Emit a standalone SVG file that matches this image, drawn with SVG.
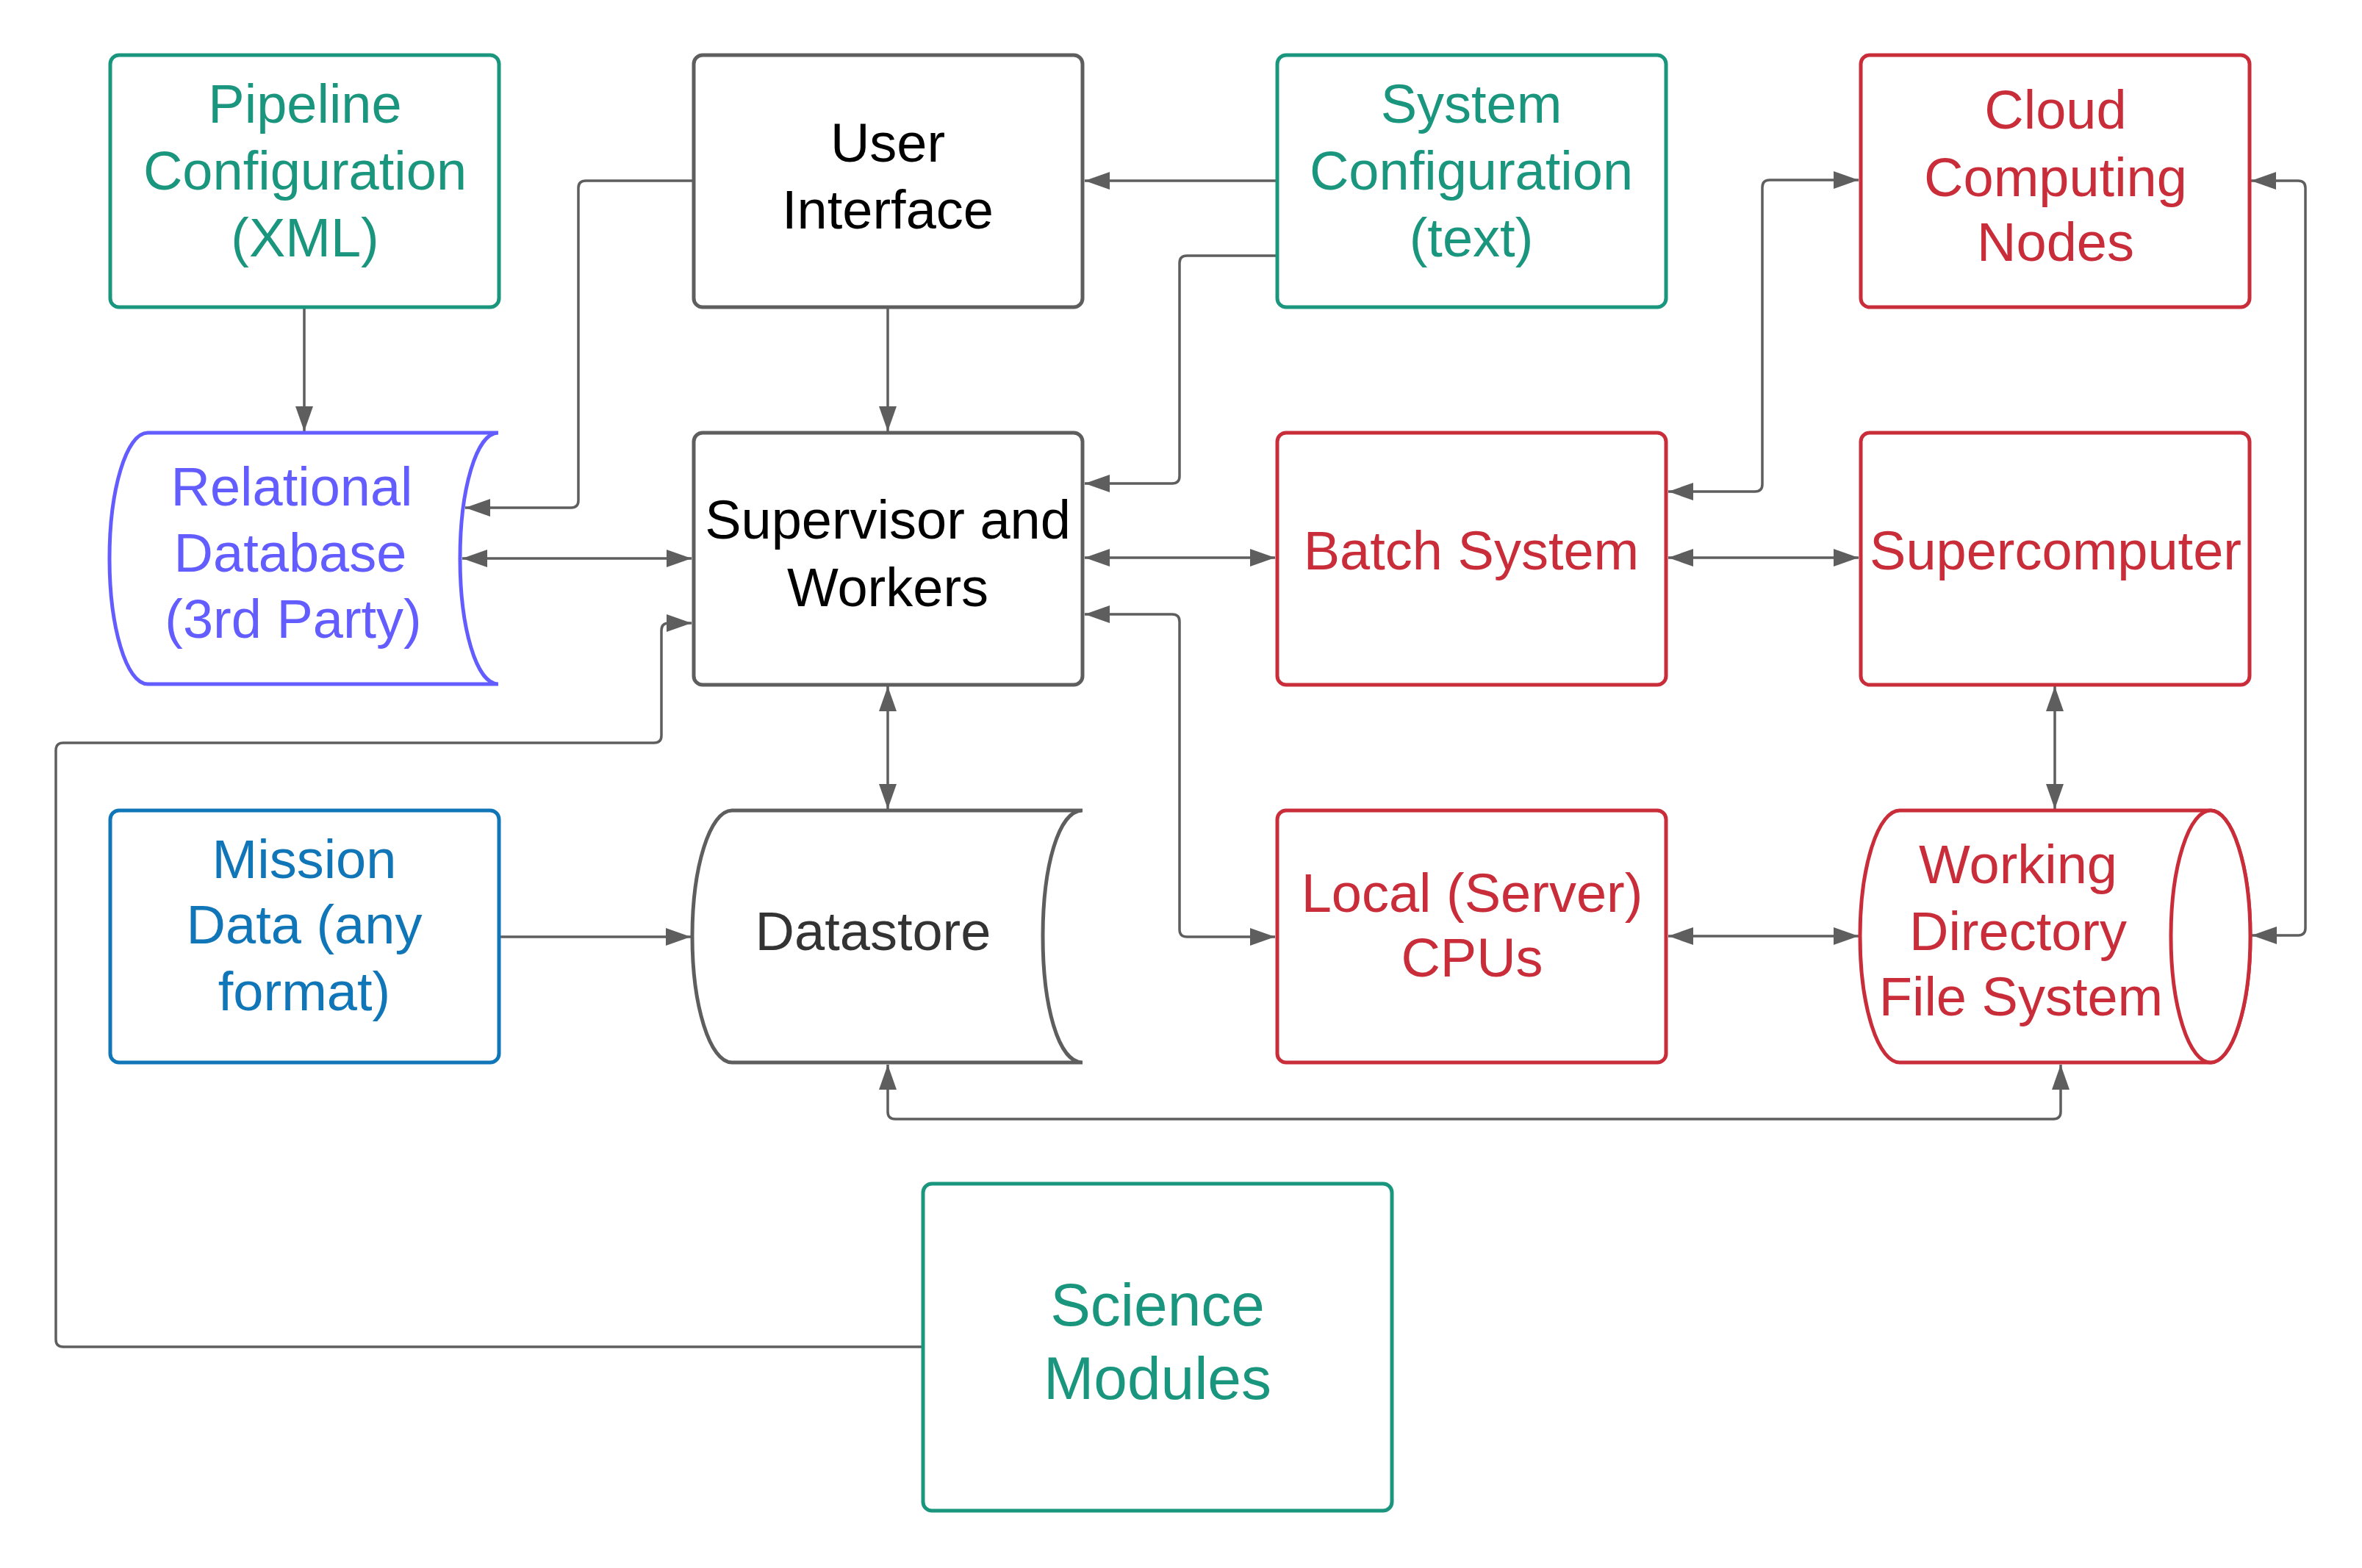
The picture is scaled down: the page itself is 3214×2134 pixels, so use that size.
<svg xmlns="http://www.w3.org/2000/svg" width="3214" height="2134" viewBox="0 0 3214 2134">
<style>
text{font-family:"Liberation Sans",Arial,sans-serif;font-size:74px;text-anchor:middle}
.box{fill:#fff;stroke-width:5}
.green{stroke:#19967d}.tgreen{fill:#19967d}
.red{stroke:#c92d39}.tred{fill:#c92d39}
.gray{stroke:#5e5e5e}.tblack{fill:#000}.tdark{fill:#333}
.blue{stroke:#1176b8}.tblue{fill:#1176b8}
.purple{stroke:#635dff}.tpurple{fill:#635dff}
.conn path{fill:none;stroke:#5e5e5e;stroke-width:3.5}
.both{marker-start:url(#ah);marker-end:url(#ah)}
.end{marker-end:url(#ah)}
</style>
<defs>
<marker id="ah" viewBox="0 0 34 24" refX="34" refY="12" markerWidth="34" markerHeight="24" markerUnits="userSpaceOnUse" orient="auto-start-reverse">
<path d="M0,0 L34,12 L0,24 z" fill="#5e5e5e"/>
</marker>
</defs>
<rect width="3214" height="2134" fill="#fff"/>
<g id="connectors" class="conn">
<path class="end" d="M414,420 V587"/>
<path class="end" d="M1208,420 V587"/>
<path class="end" d="M942,246 H797 Q787,246 787,256 V681 Q787,691 777,691 H633"/>
<path class="both" d="M629,760 H941"/>
<path class="end" d="M1736,246 H1476"/>
<path class="end" d="M1736,348 H1615 Q1605,348 1605,358 V648 Q1605,658 1595,658 H1476"/>
<path class="both" d="M1476,759 H1735"/>
<path class="both" d="M1476,836 H1595 Q1605,836 1605,846 V1265 Q1605,1275 1615,1275 H1735"/>
<path class="both" d="M2270,669 H2388 Q2398,669 2398,659 V255 Q2398,245 2408,245 H2529"/>
<path class="both" d="M2270,759 H2529"/>
<path class="both" d="M2796,934 V1101"/>
<path class="both" d="M3063,246 H3127 Q3137,246 3137,256 V1263 Q3137,1273 3127,1273 H3064"/>
<path class="both" d="M2270,1274 H2529"/>
<path class="both" d="M1208,934 V1101"/>
<path class="end" d="M680,1275 H940"/>
<path class="both" d="M1208,1449 V1513 Q1208,1523 1218,1523 H2794 Q2804,1523 2804,1513 V1449"/>
<path class="end" d="M1254,1833 H86 Q76,1833 76,1823 V1021 Q76,1011 86,1011 H890 Q900,1011 900,1001 V858 Q900,848 910,848 H941"/>
</g>
<g id="pipeline-config">
<rect class="box green" x="150" y="75" width="529" height="343" rx="12"/>
<text class="tgreen"><tspan x="415" y="167">Pipeline</tspan><tspan x="415" y="258">Configuration</tspan><tspan x="415" y="349">(XML)</tspan></text>
</g>
<g id="user-interface">
<rect class="box gray" x="944" y="75" width="529" height="343" rx="12"/>
<text class="tblack"><tspan x="1208" y="220">User</tspan><tspan x="1208" y="311">Interface</tspan></text>
</g>
<g id="system-config">
<rect class="box green" x="1738" y="75" width="529" height="343" rx="12"/>
<text class="tgreen"><tspan x="2002" y="167">System</tspan><tspan x="2002" y="258">Configuration</tspan><tspan x="2002" y="349">(text)</tspan></text>
</g>
<g id="cloud-nodes">
<rect class="box red" x="2532" y="75" width="529" height="343" rx="12"/>
<text class="tred"><tspan x="2797" y="175">Cloud</tspan><tspan x="2797" y="267">Computing</tspan><tspan x="2797" y="355">Nodes</tspan></text>
</g>
<g id="relational-db">
<path class="box purple" d="M201,589 H678 C648,589 626,666 626,760 C626,854 648,931 678,931 H201 C172,931 149,854 149,760 C149,666 172,589 201,589 Z"/>
<text class="tpurple"><tspan x="397" y="688">Relational</tspan><tspan x="395" y="778">Database</tspan><tspan x="399" y="868">(3rd Party)</tspan></text>
</g>
<g id="supervisor">
<rect class="box gray" x="944" y="589" width="529" height="343" rx="12"/>
<text class="tblack"><tspan x="1208" y="733">Supervisor and</tspan><tspan x="1208" y="825">Workers</tspan></text>
</g>
<g id="batch-system">
<rect class="box red" x="1738" y="589" width="529" height="343" rx="12"/>
<text class="tred" x="2002" y="775">Batch System</text>
</g>
<g id="supercomputer">
<rect class="box red" x="2532" y="589" width="529" height="343" rx="12"/>
<text class="tred" x="2797" y="775">Supercomputer</text>
</g>
<g id="mission-data">
<rect class="box blue" x="150" y="1103" width="529" height="343" rx="12"/>
<text class="tblue"><tspan x="414" y="1195">Mission</tspan><tspan x="414" y="1284">Data (any</tspan><tspan x="414" y="1375">format)</tspan></text>
</g>
<g id="datastore">
<path class="box gray" d="M996,1103 H1473 C1440,1103 1419,1180 1419,1274.5 C1419,1369 1440,1446 1473,1446 H996 C966,1446 942,1369 942,1274.5 C942,1180 966,1103 996,1103 Z"/>
<text class="tdark" x="1188" y="1293">Datastore</text>
</g>
<g id="local-cpus">
<rect class="box red" x="1738" y="1103" width="529" height="343" rx="12"/>
<text class="tred"><tspan x="2003" y="1241">Local (Server)</tspan><tspan x="2003" y="1329">CPUs</tspan></text>
</g>
<g id="working-directory">
<path class="box red" d="M2585,1103 H3008 A54,171.5 0 0 1 3008,1446 H2585 A54,171.5 0 0 1 2585,1103 Z"/>
<ellipse class="box red" cx="3008" cy="1274.5" rx="54" ry="171.5"/>
<text class="tred"><tspan x="2746" y="1202">Working</tspan><tspan x="2746" y="1293">Directory</tspan><tspan x="2750" y="1382">File System</tspan></text>
</g>
<g id="science-modules">
<rect class="box green" x="1256" y="1611" width="638" height="445" rx="12"/>
<text class="tgreen" style="font-size:82px"><tspan x="1575" y="1804">Science</tspan><tspan x="1575" y="1904">Modules</tspan></text>
</g>
</svg>
